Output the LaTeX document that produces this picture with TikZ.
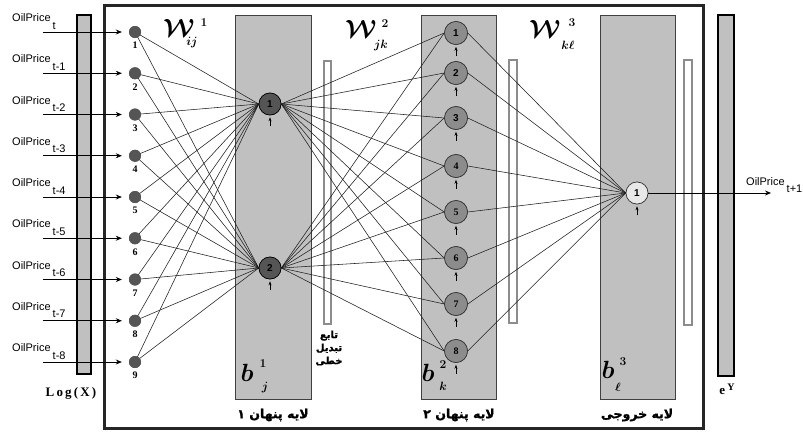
\documentclass[tikz,border=0pt]{standalone}
\usepackage{fontspec}
\usepackage{bm}
\setmainfont{Liberation Serif}
\newfontfamily\arial{Liberation Sans}
\newfontfamily\arabicfont[Script=Arabic,BoldFeatures={FakeBold=1.2}]{DejaVu Sans}
\TeXXeTstate=1
\usetikzlibrary{arrows.meta}
\definecolor{layerfill}{RGB}{192,192,192}
\definecolor{layerdraw}{RGB}{64,64,64}
\definecolor{darknode}{RGB}{85,85,85}
\definecolor{midnode}{RGB}{140,140,140}
\definecolor{lightnode}{RGB}{232,232,232}
\definecolor{barline}{RGB}{140,140,140}
\definecolor{wirec}{RGB}{30,30,30}
\begin{document}
\begin{tikzpicture}[x=1pt,y=-1pt,
  layer/.style={draw=layerdraw,fill=layerfill,line width=0.8pt},
  logbar/.style={draw=black,fill=layerfill,line width=1.6pt},
  tfbar/.style={draw=barline,fill=white,line width=2.6pt},
  frame/.style={draw=black!85,line width=3pt},
  inp/.style={circle,fill=darknode,minimum size=12pt,inner sep=0pt},
  hidone/.style={circle,draw=black,fill=darknode,minimum size=22pt,inner sep=0pt,line width=0.6pt,font=\arial\bfseries\fontsize{10}{10}\selectfont},
  hidtwo/.style={circle,draw=black!80,fill=midnode,minimum size=23pt,inner sep=0pt,line width=0.6pt,font=\bfseries\fontsize{10}{10}\selectfont},
  outn/.style={circle,draw=black!80,fill=lightnode,minimum size=22pt,inner sep=0pt,line width=0.6pt,font=\arial\bfseries\fontsize{10}{10}\selectfont},
  wire/.style={draw=wirec,line width=0.55pt},
  inarr/.style={draw=black,line width=0.7pt,-{Stealth[length=6pt,width=5pt]}},
  biasarr/.style={draw=black,line width=0.6pt,-{Stealth[length=4pt,width=3pt]}},
  num/.style={font=\bfseries\fontsize{10}{10}\selectfont,inner sep=0pt},
  price/.style={font=\arial\fontsize{11}{11}\selectfont,anchor=base west,inner sep=0pt},
  wlab/.style={font=\fontsize{26}{26}\selectfont,inner sep=0pt},
  blab/.style={font=\fontsize{24}{24}\selectfont,inner sep=0pt},
  scr/.style={font=\fontsize{13}{13}\selectfont,inner sep=0pt},
  fa/.style={font=\arabicfont\bfseries\fontsize{12.5}{14}\selectfont,inner sep=0pt},
  fasmall/.style={font=\arabicfont\bfseries\fontsize{10}{13}\selectfont,inner sep=0pt,align=center},
  axlab/.style={font=\bfseries\fontsize{13}{13}\selectfont,inner sep=0pt},
]
\useasboundingbox[fill=white] (0,0) rectangle (803,431);

% outer frame
\draw[frame] (104,5.5) rectangle (703,428);

% layer panels
\draw[layer] (235,15) rectangle (311,399);
\draw[layer] (421,15) rectangle (496,399);
\draw[layer] (600,15) rectangle (675,399);

% log and exp bars
\draw[logbar] (77,15) rectangle (91,374);
\draw[logbar] (718,15) rectangle (734,376);

% transfer function bars
\draw[tfbar] (324,61) rectangle (331,324);
\draw[tfbar] (509,60) rectangle (517,323);
\draw[tfbar] (684,60) rectangle (692,325);

% nodes
\foreach \i in {1,...,9} {
  \pgfmathsetmacro\yy{32+41.25*(\i-1)}
  \node[inp] (x\i) at (135,\yy) {};
  \node[num] (xn\i) at (135,\yy+13.5) {\i};
}
\node[hidone] (h1) at (270,104) {1};
\node[hidone] (h2) at (270,268) {2};
\foreach \k/\yy in {1/33,2/73,3/118,4/166,5/212,6/258,7/304,8/351} {
  \node[hidtwo] (m\k) at (456,\yy) {\ifnum\k<4 \arial\fi\k};
}
\node[outn] (o) at (637,193) {1};

% connections
\foreach \i in {1,...,9} {
  \foreach \j in {1,2} {
    \draw[wire] (x\i.center) -- (h\j.west);
  }
}
\foreach \j in {1,2} {
  \foreach \k in {1,...,8} {
    \draw[wire] (h\j.east) -- (m\k.west);
  }
}
\foreach \k in {1,...,8} {
  \draw[wire] (m\k.east) -- (o.west);
}
% redraw nodes on top of wires
\foreach \i in {1,...,9} {
  \pgfmathsetmacro\yy{32+41.25*(\i-1)}
  \node[inp] at (135,\yy) {};
}
\node[hidone] at (270,104) {1};
\node[hidone] at (270,268) {2};
\foreach \k/\yy in {1/33,2/73,3/118,4/166,5/212,6/258,7/304,8/351} {
  \node[hidtwo] at (456,\yy) {\ifnum\k<4 \arial\fi\k};
}
\node[outn] at (637,193) {1};

% bias arrows
\foreach \n in {h1,h2,m1,m2,m3,m4,m5,m6,m7,m8,o} {
  \draw[biasarr] (\n.south) ++(0,11) -- ++(0,-9);
}

% inputs
\foreach \i/\s in {1/t,2/t-1,3/t-2,4/t-3,5/t-4,6/t-5,7/t-6,8/t-7,9/t-8} {
  \pgfmathsetmacro\yy{32+41.25*(\i-1)}
  \coordinate (s\i) at (43,\yy);
  \draw[inarr,shorten >=7pt] (s\i) -- (x\i);
  \node[price] (p\i) at (12,\yy-10.5) {OilPrice\hspace{2pt}\raisebox{-7.5pt}{\s}};
}

% output
\coordinate (oend) at (771,193);
\draw[inarr] (o) -- (oend);
\node[price] (pout) at (746,185) {OilPrice\hspace{2pt}\raisebox{-7.5pt}{t+1}};

% weight labels
\node[wlab] (w1) at (179,28) {$\bm{\mathcal{W}}$};
\node[scr] (w1s) at (204,23) {$\bm{1}$};
\node[scr] (w1b) at (192,43) {$\bm{ij}$};
\node[wlab] (w2) at (361,29) {$\bm{\mathcal{W}}$};
\node[scr] (w2s) at (385,24) {$\bm{2}$};
\node[scr] (w2b) at (381,45) {$\bm{jk}$};
\node[wlab] (w3) at (545,29) {$\bm{\mathcal{W}}$};
\node[scr] (w3s) at (572,23) {$\bm{3}$};
\node[scr] (w3b) at (568,45) {$\bm{k\ell}$};

% bias labels
\node[blab] (b1) at (247,373) {$\bm{b}$};
\node[scr] (b1s) at (263,364) {$\bm{1}$};
\node[scr] (b1b) at (265,388) {$\bm{j}$};
\node[blab] (b2) at (428,373) {$\bm{b}$};
\node[scr] (b2s) at (443,365) {$\bm{2}$};
\node[scr] (b2b) at (443,386) {$\bm{k}$};
\node[blab] (b3) at (608,370) {$\bm{b}$};
\node[scr] (b3s) at (623,362) {$\bm{3}$};
\node[scr] (b3b) at (618,387) {$\bm{\ell}$};

% axis labels
\node[axlab] (logx) at (71,393) {L\,o\,g\,(\,X\,)};
\node[axlab] (ey) at (727,389) {e\,\raisebox{4pt}{\fontsize{10}{10}\selectfont Y}};

% Persian labels
\node[fasmall] (tf) at (329,348) {\beginR تابع\endR\\\beginR تبدیل\endR\\\beginR خطی\endR};
\node[fa] (l1) at (273,415) {\beginR لایه پنهان ۱\endR};
\node[fa] (l2) at (459,415) {\beginR لایه پنهان ۲\endR};
\node[fa] (l3) at (637,415) {\beginR لایه خروجی\endR};
\end{tikzpicture}
\end{document}
